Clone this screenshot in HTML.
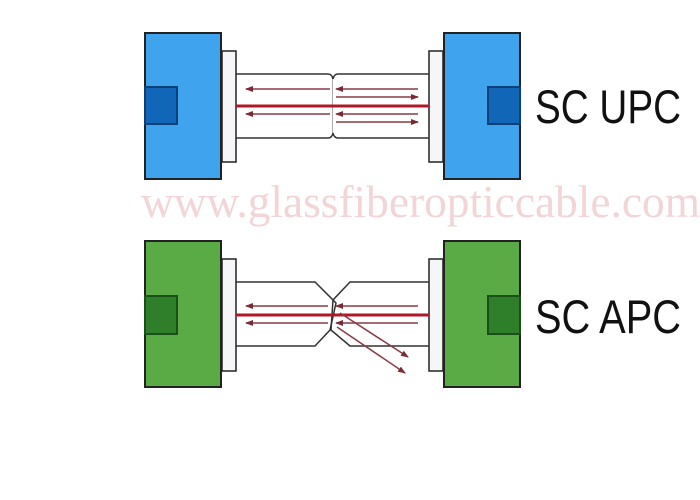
<!DOCTYPE html>
<html><head><meta charset="utf-8"><style>html,body{margin:0;padding:0;background:#fff;}svg{display:block}</style></head>
<body>
<svg width="700" height="500" viewBox="0 0 700 500" xmlns="http://www.w3.org/2000/svg">
<defs>
<marker id="ah" markerWidth="8" markerHeight="6" refX="7" refY="3" orient="auto" markerUnits="userSpaceOnUse"><path d="M0,0 L8,3 L0,6 z" fill="#7a2a35"/></marker>
</defs>
<text x="141" y="217" font-family="Liberation Serif, serif" font-size="46" fill="#f3d5d8" textLength="559" lengthAdjust="spacingAndGlyphs">www.glassfiberopticcable.com</text>
<!-- TOP -->
<g stroke="#222" stroke-width="2">
<rect x="145" y="33" width="76" height="146" fill="#3fa3ee"/>
<rect x="444" y="33" width="76" height="146" fill="#3fa3ee"/>
<rect x="222" y="51" width="14" height="111" fill="#f6f6f8" stroke-width="1.5"/>
<rect x="429" y="51" width="14" height="111" fill="#f6f6f8" stroke-width="1.5"/>
</g>
<rect x="145" y="87" width="32" height="37" fill="#1266b8" stroke="#0d3f78" stroke-width="2"/>
<rect x="488" y="87" width="32" height="37" fill="#1266b8" stroke="#0d3f78" stroke-width="2"/>
<g stroke="#333" stroke-width="1.5" fill="none">
<path d="M236,74 H328 Q332,74 333,79 Q334,74 338,74 H429"/>
<path d="M236,138 H328 Q332,138 333,133 Q334,138 338,138 H429"/>
<line x1="332.5" y1="79" x2="332.5" y2="133" stroke="#aaa" stroke-width="1"/>
</g>
<line x1="236" y1="106" x2="429" y2="106" stroke="#b0182a" stroke-width="3"/>
<g stroke="#8a3a45" stroke-width="1.5" marker-end="url(#ah)">
<line x1="330" y1="89" x2="246" y2="89"/>
<line x1="418" y1="89" x2="336" y2="89"/>
<line x1="336" y1="97" x2="418" y2="97"/>
<line x1="330" y1="114" x2="246" y2="114"/>
<line x1="418" y1="114" x2="336" y2="114"/>
<line x1="336" y1="122" x2="418" y2="122"/>
</g>
<text x="535" y="123" font-family="Liberation Sans, sans-serif" font-size="47" fill="#111" textLength="146" lengthAdjust="spacingAndGlyphs">SC UPC</text>
<!-- BOTTOM -->
<g stroke="#222" stroke-width="2">
<rect x="145" y="241" width="76" height="146" fill="#5aaa45"/>
<rect x="444" y="241" width="76" height="146" fill="#5aaa45"/>
<rect x="222" y="259" width="14" height="112" fill="#f6f6f8" stroke-width="1.5"/>
<rect x="429" y="259" width="14" height="112" fill="#f6f6f8" stroke-width="1.5"/>
</g>
<rect x="145" y="296" width="32" height="38" fill="#2e7e2a" stroke="#1b4f1a" stroke-width="2"/>
<rect x="488" y="296" width="32" height="38" fill="#2e7e2a" stroke="#1b4f1a" stroke-width="2"/>
<g stroke="#333" stroke-width="1.5" fill="none">
<path d="M236,282 H315 L336,303 L330,330 L315,346 H236"/>
<path d="M429,282 H350 L333,300 L331,330 L350,346 H429"/>
</g>
<line x1="236" y1="315" x2="429" y2="315" stroke="#b0182a" stroke-width="3"/>
<g stroke="#8a3a45" stroke-width="1.5" marker-end="url(#ah)">
<line x1="328" y1="306" x2="246" y2="306"/>
<line x1="418" y1="306" x2="336" y2="306"/>
<line x1="328" y1="323" x2="246" y2="323"/>
<line x1="418" y1="323" x2="336" y2="323"/>
<line x1="340" y1="313" x2="408" y2="357"/>
<line x1="337" y1="327" x2="405" y2="373"/>
</g>
<text x="535" y="333" font-family="Liberation Sans, sans-serif" font-size="47" fill="#111" textLength="146" lengthAdjust="spacingAndGlyphs">SC APC</text>
</svg>
</body></html>
